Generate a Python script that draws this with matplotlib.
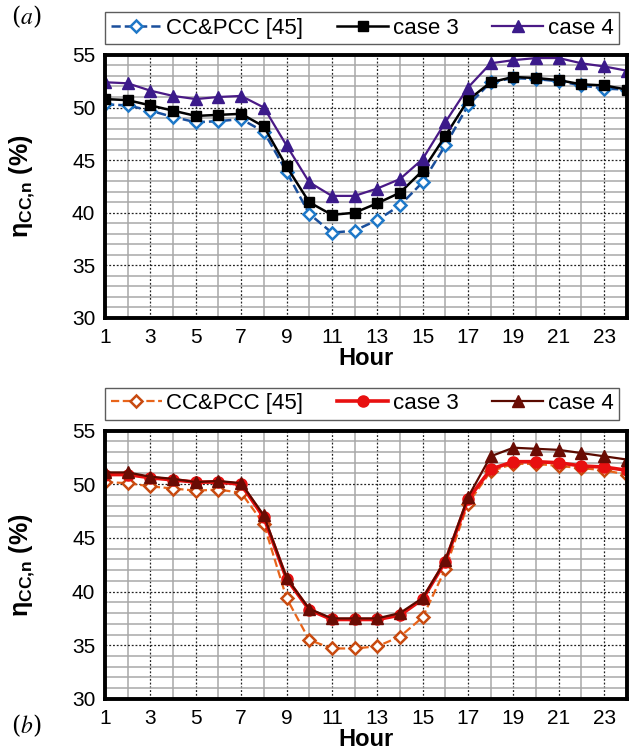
import matplotlib
matplotlib.use('Agg')
import matplotlib.pyplot as plt

plt.rcParams['font.family'] = ['Liberation Sans', 'DejaVu Sans']
plt.rcParams['mathtext.fontset'] = 'custom'
plt.rcParams['mathtext.rm'] = 'Liberation Sans:bold'
plt.rcParams['mathtext.it'] = 'Liberation Sans:bold'
plt.rcParams['mathtext.bf'] = 'Liberation Sans:bold'

hours = list(range(1, 25))
labels = ['CC&PCC [45]', 'case 3', 'case 4']

# panel (a)
a_ccpcc = [50.3, 50.2, 49.7, 49.1, 48.6, 48.7, 48.9, 47.7, 43.9, 39.9, 38.1, 38.3,
           39.3, 40.7, 42.9, 46.4, 50.2, 52.4, 52.8, 52.7, 52.5, 52.1, 51.8, 51.7]
a_case3 = [50.8, 50.7, 50.2, 49.7, 49.2, 49.3, 49.4, 48.2, 44.4, 41.0, 39.8, 40.0,
           40.9, 41.9, 44.0, 47.3, 50.7, 52.4, 52.9, 52.8, 52.6, 52.2, 52.1, 51.7]
a_case4 = [52.4, 52.3, 51.6, 51.1, 50.8, 51.0, 51.1, 50.0, 46.4, 42.9, 41.6, 41.6,
           42.3, 43.2, 45.1, 48.6, 51.9, 54.2, 54.5, 54.7, 54.7, 54.2, 53.9, 53.5]

# panel (b)
b_ccpcc = [50.2, 50.1, 49.8, 49.6, 49.4, 49.5, 49.2, 46.3, 39.4, 35.5, 34.7, 34.7,
           34.9, 35.8, 37.6, 42.1, 48.2, 51.2, 51.9, 51.9, 51.7, 51.5, 51.3, 50.9]
b_case3 = [50.9, 50.9, 50.6, 50.4, 50.2, 50.2, 50.0, 46.9, 41.2, 38.3, 37.4, 37.4,
           37.4, 37.8, 39.3, 42.8, 48.6, 51.4, 52.1, 52.1, 52.0, 51.7, 51.6, 51.3]
b_case4 = [51.1, 51.1, 50.7, 50.5, 50.2, 50.3, 50.1, 47.1, 41.3, 38.4, 37.5, 37.5,
           37.5, 38.0, 39.4, 42.9, 48.8, 52.6, 53.4, 53.3, 53.2, 52.9, 52.6, 52.3]


def style_axes(ax):
    ax.set_xlim(1, 24)
    ax.set_ylim(30, 55)
    ax.set_xticks(range(1, 24, 2))
    ax.set_xticks(range(1, 25), minor=True)
    ax.set_yticks(range(30, 56, 5))
    ax.set_yticks(range(30, 56), minor=True)
    ax.grid(which='minor', color='#a8a8a8', linestyle='-', linewidth=1.1)
    ax.grid(which='major', color='#222222', linestyle=(0, (1.5, 1.5)), linewidth=0.9)
    ax.set_axisbelow(True)
    ax.tick_params(which='both', length=0, labelsize=15, pad=7)
    for s in ax.spines.values():
        s.set_linewidth(2.8)
        s.set_color('black')
    ax.set_xlabel('Hour', fontsize=17, fontweight='bold', labelpad=0)
    ax.set_ylabel(r'η$_{CC{,}n}$ (%)', fontsize=18, fontweight='bold')
    ax.yaxis.set_label_coords(-0.13, 0.5)


fig = plt.figure(figsize=(6.31, 7.56), dpi=100)
ax1 = fig.add_axes([0.1664, 0.5794, 0.827, 0.348])
ax2 = fig.add_axes([0.1664, 0.0755, 0.827, 0.355])

ax1.plot(hours, a_ccpcc, '--', color='#1a4f9c', lw=1.8, marker='D', ms=6,
         mfc='white', mec='#1e78c8', mew=1.8, label=labels[0])
ax1.plot(hours, a_case3, '-', color='black', lw=1.8, marker='s', ms=7, label=labels[1])
ax1.plot(hours, a_case4, '-', color='#4a1a86', lw=1.6, marker='^', ms=8,
         mfc='#3b1a8a', mec='#3b1a8a', label=labels[2])

ax2.plot(hours, b_ccpcc, '--', color='#e8641a', lw=1.6, marker='D', ms=6,
         mfc='white', mec='#c84a10', mew=1.8, label=labels[0])
ax2.plot(hours, b_case3, '-', color='#e81010', lw=2.6, marker='o', ms=8,
         mfc='#e81010', mec='#e81010', label=labels[1])
ax2.plot(hours, b_case4, '-', color='#5a0a00', lw=1.6, marker='^', ms=8,
         mfc='#6a0c04', mec='#6a0c04', label=labels[2])

for ax, h in ((ax1, 0.118), (ax2, 0.105)):
    style_axes(ax)
    leg = ax.legend(loc='lower left', bbox_to_anchor=(0.0, 1.04, 0.985, h), mode='expand',
                    ncol=3, fontsize=16, frameon=True, fancybox=False, borderaxespad=0,
                    handlelength=2.3, handletextpad=0.2, columnspacing=0.8,
                    borderpad=0.25)
    leg.get_frame().set_edgecolor('#333333')
    leg.get_frame().set_linewidth(1.0)

fig.text(0.018, 0.968, '($a$)', fontsize=17, family='DejaVu Serif',
         math_fontfamily='stix')
fig.text(0.018, 0.03, '($b$)', fontsize=17, family='DejaVu Serif',
         math_fontfamily='stix')

fig.savefig('out.png', dpi=100)
